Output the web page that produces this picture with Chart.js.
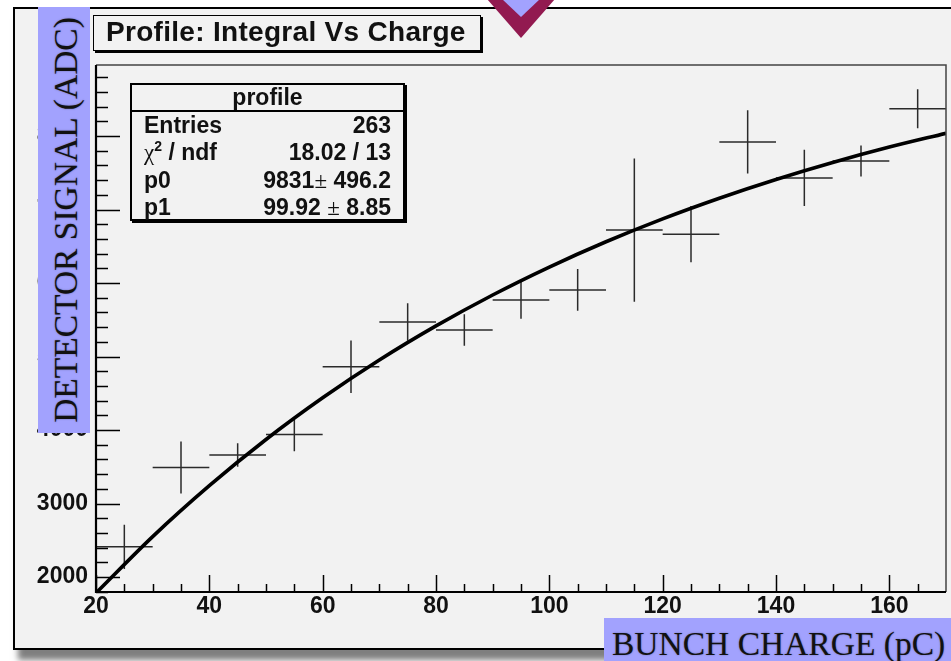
<!DOCTYPE html>
<html>
<head>
<meta charset="utf-8">
<title>Profile: Integral Vs Charge</title>
<script src="https://cdn.jsdelivr.net/npm/chart.js@4/dist/chart.umd.min.js"></script>
<style>
  html, body { margin: 0; padding: 0; background: #fff; }
  #wrap { position: relative; width: 951px; height: 661px; overflow: hidden; }
  #c { position: absolute; left: 0; top: 0; }
  .box { position: absolute; box-sizing: border-box; white-space: nowrap; }
  #title {
    left: 93px; top: 15px; width: 388px; height: 36px;
    border: 1.5px solid #000; box-shadow: 2px 2px 0 #000; background: #f2f2f2;
    font: bold 28px "Liberation Sans", Arial, sans-serif; letter-spacing: 0.3px;
    color: #111; padding-left: 12px; line-height: 31px;
  }
  #stats {
    left: 130px; top: 83px; width: 275px; height: 138px;
    border: 2px solid #000; box-shadow: 2px 2px 0 #000; background: #f2f2f2;
    font: bold 23px "Liberation Sans", Arial, sans-serif; color: #111;
  }
  #stats .head { height: 25px; line-height: 25px; text-align: center; border-bottom: 2px solid #000; }
  #stats .row { height: 27.3px; line-height: 27px; padding: 0 12px; display: flex; justify-content: space-between; }
  #stats .sym { font-family: "Liberation Serif", "DejaVu Serif", serif; font-weight: normal; }
  #stats sup { font-size: 14px; vertical-align: 9px; line-height: 0; }
  .axlab {
    background: #a2a2fe; color: #111;
    font: 33.5px "Liberation Serif", "Times New Roman", serif;
    text-shadow: 0 0 2px rgba(0,0,0,0.35);
  }
  #ylab { left: 38px; top: 7px; width: 52px; height: 426px; }
  #ylab span {
    position: absolute; left: 50%; top: 50%; width: 426px; height: 52px;
    margin-left: -213px; margin-top: -26px; text-align: center; line-height: 55px;
    transform: rotate(-90deg);
  }
  #xlab { left: 604px; top: 618px; width: 360px; height: 50px; padding-left: 8px; line-height: 51px; }
</style>
</head>
<body>
<div id="wrap">
  <canvas id="c" width="951" height="661"></canvas>
  <div class="box" id="title">Profile: Integral Vs Charge</div>
  <div class="box" id="stats">
    <div class="head">profile</div>
    <div class="row"><span>Entries</span><span>263</span></div>
    <div class="row"><span><span class="sym">χ</span><sup>2</sup> / ndf</span><span>18.02 / 13</span></div>
    <div class="row"><span>p0</span><span>9831<span class="sym">±</span> 496.2</span></div>
    <div class="row"><span>p1</span><span>99.92 <span class="sym">±</span> 8.85</span></div>
  </div>
  <div class="box axlab" id="ylab"><span>DETECTOR SIGNAL (ADC)</span></div>
  <div class="box axlab" id="xlab">BUNCH CHARGE (pC)</div>
</div>
<script>
// Profile bins: bunch charge bin centres, mean detector signal and its error
const charge = [25, 35, 45, 55, 65, 75, 85, 95, 105, 115, 125, 135, 145, 155, 165];
const signal = [2410, 3490, 3660, 3940, 4860, 5470, 5360, 5770, 5905, 6720, 6665, 7920, 7430, 7660, 8370];
const signalErr = [300, 355, 160, 228, 358, 254, 214, 256, 284, 975, 382, 430, 384, 212, 266];
const binHalfWidth = 5;

// Fitted curve sampled along the charge axis
const fitCharge = [20, 30, 40, 50, 60, 70, 80, 90, 100, 110, 120, 130, 140, 150, 160, 170];
const fitSignal = [1783, 2550, 3243, 3871, 4438, 4952, 5416, 5837, 6217, 6561, 6873, 7154, 7409, 7640, 7849, 8037];

// Axis ranges and labelled ticks
const xRange = [20, 170];
const yRange = [1796, 8966];
const xTicks = [20, 40, 60, 80, 100, 120, 140, 160];
const yTicks = [2000, 3000, 4000, 5000, 6000, 7000, 8000];
const xMinorStep = 5;
const yMinorStep = 200;

const FRAME_BG = '#f2f2f2';

// Canvas frame with drop shadow
const frameDecor = {
  id: 'frameDecor',
  beforeDraw(chart) {
    const ctx = chart.ctx, W = chart.width, H = chart.height;
    ctx.save();
    ctx.fillStyle = '#fff';
    ctx.fillRect(0, 0, W, H);
    ctx.shadowColor = 'rgba(0,0,0,0.5)';
    ctx.shadowBlur = 6;
    ctx.shadowOffsetX = 4;
    ctx.shadowOffsetY = 11;
    ctx.fillStyle = FRAME_BG;
    ctx.fillRect(14, 8, W + 30, 641);
    ctx.restore();
    ctx.save();
    ctx.strokeStyle = '#000';
    ctx.lineWidth = 2;
    ctx.strokeRect(14, 8, W + 30, 641);
    ctx.restore();
  }
};

// Profile markers: horizontal bar spans the bin, vertical bar the error
const profileCrosses = {
  id: 'profileCrosses',
  beforeDatasetsDraw(chart) {
    const { ctx, chartArea: a, scales: { x, y } } = chart;
    ctx.save();
    ctx.beginPath();
    ctx.rect(a.left, a.top, a.right - a.left, a.bottom - a.top);
    ctx.clip();
    ctx.strokeStyle = '#2b2b2b';
    ctx.lineWidth = 1.5;
    charge.forEach((c, i) => {
      const px = x.getPixelForValue(c);
      const py = y.getPixelForValue(signal[i]);
      ctx.beginPath();
      ctx.moveTo(x.getPixelForValue(c - binHalfWidth), py);
      ctx.lineTo(x.getPixelForValue(c + binHalfWidth), py);
      ctx.moveTo(px, y.getPixelForValue(signal[i] + signalErr[i]));
      ctx.lineTo(px, y.getPixelForValue(signal[i] - signalErr[i]));
      ctx.stroke();
    });
    ctx.restore();
  }
};

// Axis lines, inward ticks and the marker at the top edge
const axesDecor = {
  id: 'axesDecor',
  afterDraw(chart) {
    const { ctx, chartArea: a, scales: { x, y } } = chart;
    ctx.save();
    // top / right frame of the pad
    ctx.strokeStyle = '#444';
    ctx.lineWidth = 1.5;
    ctx.beginPath();
    ctx.moveTo(a.left, a.top); ctx.lineTo(a.right, a.top); ctx.lineTo(a.right, a.bottom);
    ctx.stroke();
    // ticks
    ctx.strokeStyle = '#000';
    ctx.lineWidth = 1.5;
    ctx.beginPath();
    for (let v = Math.ceil(y.min / yMinorStep) * yMinorStep; v <= y.max; v += yMinorStep) {
      const py = Math.round(y.getPixelForValue(v)) + 0.5;
      const len = (v % 1000 === 0) ? 24 : 12;
      ctx.moveTo(a.left, py); ctx.lineTo(a.left + len, py);
    }
    for (let v = Math.ceil(x.min / xMinorStep) * xMinorStep; v < x.max; v += xMinorStep) {
      const px = Math.round(x.getPixelForValue(v)) + 0.5;
      const len = (v % 20 === 0) ? 17 : 8;
      ctx.moveTo(px, a.bottom); ctx.lineTo(px, a.bottom - len);
    }
    ctx.stroke();
    // main axes
    ctx.lineWidth = 2.2;
    ctx.beginPath();
    ctx.moveTo(a.left, a.top); ctx.lineTo(a.left, a.bottom); ctx.lineTo(a.right, a.bottom);
    ctx.stroke();
    // marker at the top edge
    ctx.fillStyle = '#921a50';
    ctx.beginPath();
    ctx.moveTo(487, -1); ctx.lineTo(555, -1); ctx.lineTo(521, 38); ctx.closePath();
    ctx.fill();
    ctx.fillStyle = '#a2a2fe';
    ctx.beginPath();
    ctx.moveTo(502, -1); ctx.lineTo(540, -1); ctx.lineTo(521, 17); ctx.closePath();
    ctx.fill();
    ctx.restore();
  }
};

Chart.defaults.font.family = '"Liberation Sans", Arial, sans-serif';
const tickFont = { size: 23, weight: 'bold' };

new Chart(document.getElementById('c'), {
  type: 'scatter',
  data: {
    datasets: [
      {
        label: 'fit',
        data: fitCharge.map((c, i) => ({ x: c, y: fitSignal[i] })),
        showLine: true,
        borderColor: '#000',
        borderWidth: 3.6,
        pointRadius: 0,
        cubicInterpolationMode: 'monotone',
        order: 0
      },
      {
        label: 'profile',
        data: charge.map((c, i) => ({ x: c, y: signal[i] })),
        showLine: false,
        pointRadius: 0,
        order: 1
      }
    ]
  },
  options: {
    responsive: false,
    devicePixelRatio: 1,
    animation: false,
    events: [],
    layout: { padding: { top: 65, right: 5, left: 0, bottom: 0 } },
    plugins: { legend: { display: false }, tooltip: { enabled: false }, title: { display: false } },
    scales: {
      x: {
        type: 'linear',
        position: 'bottom',
        min: xRange[0],
        max: xRange[1],
        grid: { display: false, drawTicks: false },
        border: { display: false },
        afterBuildTicks: s => { s.ticks = xTicks.map(v => ({ value: v })); },
        afterFit: s => { s.height = 69; },
        ticks: {
          font: tickFont, color: '#111', padding: 1,
          autoSkip: false, maxRotation: 0,
          callback: v => String(v)
        }
      },
      y: {
        type: 'linear',
        position: 'left',
        min: yRange[0],
        max: yRange[1],
        grid: { display: false, drawTicks: false },
        border: { display: false },
        afterBuildTicks: s => { s.ticks = yTicks.map(v => ({ value: v })); },
        afterFit: s => { s.width = 96; },
        ticks: {
          font: tickFont, color: '#111', padding: 8,
          autoSkip: false,
          callback: v => String(v)
        }
      }
    }
  },
  plugins: [frameDecor, profileCrosses, axesDecor]
});
</script>
</body>
</html>
